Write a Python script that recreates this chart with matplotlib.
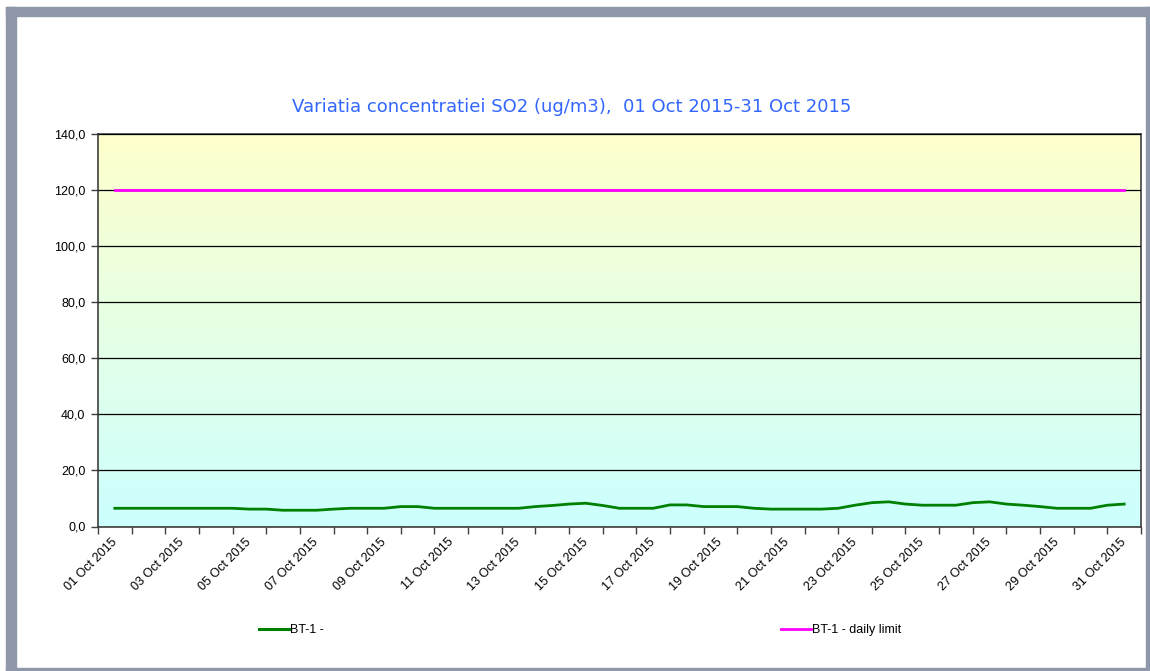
import numpy as np
import matplotlib
matplotlib.use('Agg')
from matplotlib import pyplot as plt
from matplotlib.patches import Rectangle
from matplotlib.lines import Line2D

# SO2 values read every half day, from 01 Oct to 31 Oct
so2_vals = [
    6.5, 6.5, 6.5, 6.5, 6.5, 6.5, 6.5, 6.5,   # 01-04
    6.2, 6.2, 5.8, 5.8, 5.8, 6.2, 6.5, 6.5,   # 05-08
    6.5, 7.1, 7.1, 6.5, 6.5, 6.5, 6.5, 6.5,   # 09-12
    6.5, 7.1, 7.5, 8.0, 8.3, 7.5, 6.5, 6.5,   # 13-16
    6.5, 7.7, 7.7, 7.1, 7.1, 7.1, 6.5, 6.2,   # 17-20
    6.2, 6.2, 6.2, 6.5, 7.6, 8.5, 8.8, 8.0,   # 21-24
    7.6, 7.6, 7.6, 8.5, 8.8, 8.0, 7.6, 7.1,   # 25-28
    6.5, 6.5, 6.5, 7.6, 8.0,                  # 29-31
]
so2_days = [1 + 0.5 * i for i in range(len(so2_vals))]
limit_val = 120.0
days = ['%02d Oct 2015' % d for d in range(1, 32)]
title = 'Variatia concentratiei SO2 (ug/m3),  01 Oct 2015-31 Oct 2015'

W, H = 1150, 671
fig = plt.figure(figsize=(W / 100, H / 100), dpi=100)
fig.patch.set_facecolor('white')

# grey frame of the screenshot
frame = '#8F97AB'
for x0, y0, w, h in [(6, 7, 1144, 9), (6, 7, 10, 664), (1146, 7, 4, 664), (6, 668, 1144, 3)]:
    fig.patches.append(Rectangle((x0 / W, 1 - (y0 + h) / H), w / W, h / H,
                                 transform=fig.transFigure, color=frame, zorder=0))

ax = fig.add_axes([98 / W, 1 - 526.5 / H, (1141 - 98) / W, (526.5 - 134) / H])

# yellow -> cyan background
grad = np.linspace(0, 1, 256)[:, None]
c_top = np.array([1.0, 1.0, 0.80])
c_bot = np.array([0.80, 1.0, 1.0])
img = c_top[None, None, :] * (1 - grad[:, :, None]) + c_bot[None, None, :] * grad[:, :, None]
ax.imshow(img, extent=[0, 31, 0, 140], aspect='auto', zorder=0, origin='upper')

ax.set_xlim(0, 31)
ax.set_ylim(0, 140)

xs = [d - 0.5 for d in so2_days]
ax.plot(xs, so2_vals, color='#008000', lw=2.0, zorder=3)
ax.plot([0.5, 30.5], [limit_val, limit_val], color='#FF00FF', lw=2, zorder=3)

ax.set_yticks(np.arange(0, 141, 20))
ax.set_yticklabels([('%.1f' % v).replace('.', ',') for v in np.arange(0, 141, 20)],
                   fontsize=9, family='Liberation Sans')
ax.yaxis.grid(True, color='black', lw=0.9)
ax.set_axisbelow(False)

ax.set_xticks(np.arange(0, 32))
ax.set_xticklabels([])
ax.set_xticks(np.arange(0.5, 31, 2), minor=True)
ax.set_xticklabels(days[::2], minor=True, rotation=45, ha='right', va='center',
                   rotation_mode='anchor', fontsize=9, family='Liberation Sans')
ax.tick_params(axis='x', which='minor', length=0, pad=10)
ax.tick_params(axis='both', which='major', length=5, color='#404040', width=1)
ax.tick_params(axis='y', pad=4)
for s in ax.spines.values():
    s.set_color('#404040')
    s.set_linewidth(1.2)

fig.text(572 / W, 1 - 107 / H, title, ha='center', va='center', color='#3366FF',
         fontsize=13, family='DejaVu Sans')

# legend entries
fig.legend([Line2D([], [], color='#008000', lw=2.2)], ['BT-1 -'],
           loc='center left', bbox_to_anchor=(248 / W, 1 - 630 / H), frameon=False,
           handlelength=2.4, handletextpad=0.1, prop={'family': 'Liberation Sans', 'size': 9})
fig.legend([Line2D([], [], color='#FF00FF', lw=2)], ['BT-1 - daily limit'],
           loc='center left', bbox_to_anchor=(770 / W, 1 - 630 / H), frameon=False,
           handlelength=2.4, handletextpad=0.1, prop={'family': 'Liberation Sans', 'size': 9})

fig.savefig('out.png', dpi=100)
